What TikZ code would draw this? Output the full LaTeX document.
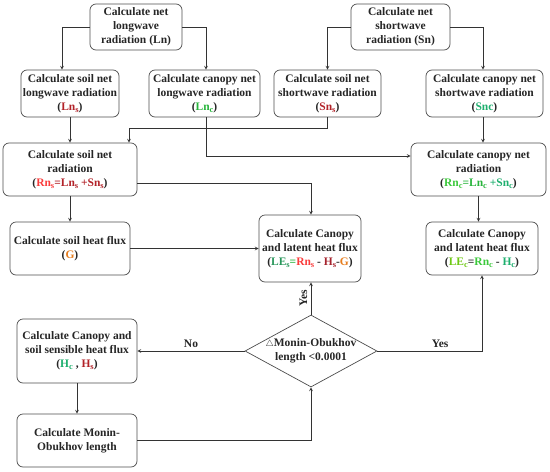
\documentclass[tikz,border=0pt]{standalone}
\usepackage{fontspec}
\setmainfont{Liberation Serif}
\usetikzlibrary{shapes.geometric}

\newcommand\fluxsub[1]{\raisebox{-0.4ex}{\fontsize{8.5}{8.5}\selectfont #1}}

\tikzset{
  stepbox/.style={draw=black!70, rounded corners=6pt, line width=0.7pt, align=center,
    inner sep=1pt, font=\fontsize{11.5}{14}\selectfont\bfseries, text=black!85},
  flow/.style={->, draw=black!80, line width=0.7pt},
  flowlabel/.style={font=\fontsize{11.5}{14}\selectfont\bfseries, text=black!85}
}

\begin{document}
\begin{tikzpicture}[>=stealth, x=1pt, y=-1pt]
			\definecolor{soilred}{RGB}{178, 34, 40}
			\definecolor{rnred}{RGB}{250, 60, 60}
			\definecolor{hsred}{RGB}{165, 35, 45}
			\definecolor{canopygreen}{RGB}{40, 180, 60}
			\definecolor{sncgreen}{RGB}{30, 175, 110}
			\definecolor{lesgreen}{RGB}{40, 150, 90}
			\definecolor{rncgreen}{RGB}{60, 200, 60}
			\definecolor{lecgreen}{RGB}{110, 200, 20}
			\definecolor{gorange}{RGB}{230, 125, 30}

			\useasboundingbox (0,0) rectangle (550,472);

			% radiation inputs
			\node[stepbox, minimum width=92pt, minimum height=46pt] (ln) at (136,27) {Calculate net\\longwave\\radiation (Ln)};
			\node[stepbox, minimum width=99pt, minimum height=46pt] (sn) at (400.5,27) {Calculate net\\shortwave\\radiation (Sn)};

			% soil and canopy parts
			\node[stepbox, minimum width=98pt, minimum height=47pt] (lns) at (70,93.5) {Calculate soil net\\longwave radiation\\(\textcolor{soilred}{Ln\fluxsub{s}})};
			\node[stepbox, minimum width=111pt, minimum height=47pt] (lnc) at (204.5,93.5) {Calculate canopy net\\longwave radiation\\(\textcolor{canopygreen}{Ln\fluxsub{c}})};
			\node[stepbox, minimum width=107pt, minimum height=47pt] (sns) at (327.5,93.5) {Calculate soil net\\shortwave radiation\\(\textcolor{soilred}{Sn\fluxsub{s}})};
			\node[stepbox, minimum width=117pt, minimum height=47pt] (snc) at (484.5,93.5) {Calculate canopy net\\shortwave radiation\\(\textcolor{sncgreen}{Snc})};

			% net radiation
			\node[stepbox, minimum width=134pt, minimum height=53pt] (rns) at (70,169.5) {Calculate soil net\\radiation\\(\textcolor{rnred}{Rn\fluxsub{s}}\textcolor{soilred}{=Ln\fluxsub{s}} \textcolor{soilred}{+Sn\fluxsub{s}})};
			\node[stepbox, minimum width=135pt, minimum height=53pt] (rnc) at (478.5,169.5) {Calculate canopy net\\radiation\\(\textcolor{rncgreen}{Rn\fluxsub{c}}\textcolor{canopygreen}{=Ln\fluxsub{c}} \textcolor{sncgreen}{+Sn\fluxsub{c}})};

			% fluxes
			\node[stepbox, minimum width=120pt, minimum height=53pt] (g) at (70,248.5) {Calculate soil heat flux\\(\textcolor{gorange}{G})};
			\node[stepbox, minimum width=102pt, minimum height=67pt] (les) at (310,248.5) {Calculate Canopy\\and latent heat flux\\(\textcolor{lesgreen}{LE\fluxsub{s}}\textcolor{canopygreen}{=}\textcolor{rnred}{Rn\fluxsub{s}} - \textcolor{hsred}{H\fluxsub{s}}-\textcolor{gorange}{G})};
			\node[stepbox, minimum width=112pt, minimum height=53pt] (lec) at (482,248.5) {Calculate Canopy\\and latent heat flux\\(\textcolor{lecgreen}{LE\fluxsub{c}}=\textcolor{rncgreen}{Rn\fluxsub{c}} - \textcolor{sncgreen}{H\fluxsub{c}})};
			\node[stepbox, minimum width=120pt, minimum height=64pt] (h) at (77,351) {Calculate Canopy and\\soil sensible heat flux\\(\textcolor{sncgreen}{H\fluxsub{c}} , \textcolor{soilred}{H\fluxsub{s}})};
			\node[stepbox, minimum width=120pt, minimum height=53pt] (mo) at (77,440.5) {Calculate Monin-\\Obukhov length};

			% convergence test
			\node[diamond, draw=black!70, line width=0.7pt, minimum width=132pt, minimum height=72pt, inner sep=0pt] (dec) at (311,351) {};
			\node[flowlabel, align=center] (dectext) at (dec) {{\small$\triangle$}Monin-Obukhov\\length <0.0001};

			% connectors
			\draw[flow] (ln.west) -| ([xshift=-8pt]lns.north);
			\draw[flow] (ln.east) -| ([xshift=1.5pt]lnc.north);
			\draw[flow] (sn.west) -| (sns.north);
			\draw[flow] (sn.east) -| ([xshift=-1.5pt]snc.north);
			\draw[flow] (lns) -- (rns);
			\draw[flow] (sns.south) -- ++(0,11) -| ([xshift=59pt]rns.north);
			\draw[flow] ([xshift=1.5pt]lnc.south) |- ([yshift=13.5pt]rnc.west);
			\draw[flow] ([xshift=-1.5pt]snc.south) -- ([xshift=-1.5pt]snc.south |- rnc.north);
			\draw[flow] ([yshift=-13.5pt]rns.east) -| ([xshift=1pt]les.north);
			\draw[flow] (rns) -- (g);
			\draw[flow] (g) -- (les);
			\draw[flow] (rnc.south) -- (rnc.south |- lec.north);
			\draw[flow] (dec.north) -- ([xshift=1pt]les.south) node[flowlabel, midway, above, rotate=90] {Yes};
			\draw[flow] (dec.east) -| (lec.south) node[flowlabel, pos=0.3, above] {Yes};
			\draw[flow] (dec.west) -- (h.east) node[flowlabel, midway, above] {No};
			\draw[flow] (h) -- (mo);
			\draw[flow] (mo.east) -| (dec.south);
		\end{tikzpicture}
\end{document}
